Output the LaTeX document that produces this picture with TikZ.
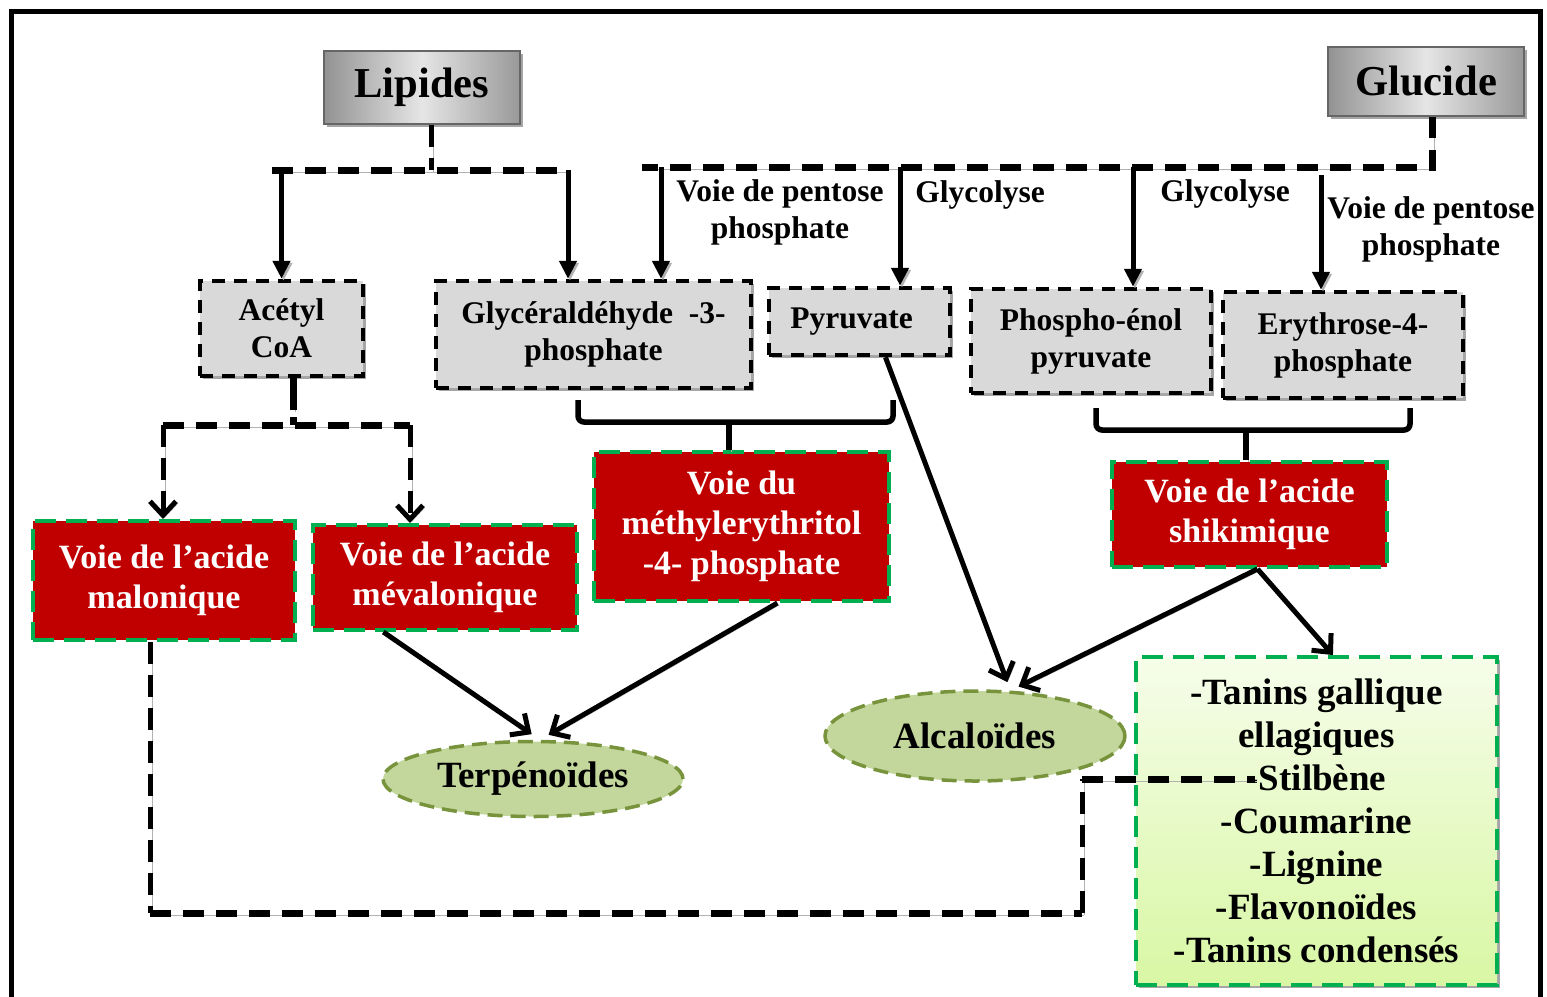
\documentclass[tikz,border=0pt]{standalone}
\usepackage{fontspec}
\setmainfont{Liberation Serif}
\usetikzlibrary{arrows.meta,shapes.geometric,shadows,calc}
\definecolor{darkred}{HTML}{C00000}
\definecolor{vgreen}{HTML}{00B050}
\definecolor{olivec}{HTML}{77933C}
\definecolor{ellfill}{HTML}{C3D69B}
\definecolor{boxgray}{HTML}{D9D9D9}
\definecolor{pbtop}{HTML}{F6FDEA}
\definecolor{pbbot}{HTML}{D8F7A4}
\begin{document}
\begin{tikzpicture}[x=1pt,y=-1pt,
  shad/.style={general shadow={fill=black!35, shadow xshift=3pt, shadow yshift=-3pt}},
  lshad/.style={preaction={draw=black!30, transform canvas={shift={(2pt,-2pt)}}}},
  srcbox/.style={draw=gray!80!black, line width=2pt, left color=gray!85, right color=gray!80, middle color=gray!20, shad, inner sep=0pt, font=\bfseries\fontsize{42.6}{48}\selectfont},
  graybox/.style={draw=black, fill=boxgray, line width=4.5pt, dash pattern=on 13pt off 9pt, shad, align=center, inner sep=0pt, font=\bfseries\fontsize{31.5}{37}\selectfont},
  redbox/.style={draw=vgreen, fill=darkred, text=white, line width=4pt, dash pattern=on 21pt off 10pt, align=center, inner sep=0pt, font=\bfseries\fontsize{34}{40}\selectfont},
  ell/.style={ellipse, draw=olivec, fill=ellfill, line width=3.5pt, dash pattern=on 15pt off 8pt, inner sep=0pt, font=\bfseries\fontsize{37}{43}\selectfont},
  lbl/.style={align=center, font=\bfseries\fontsize{31.5}{37}\selectfont, inner sep=0pt},
  dline/.style={line width=7pt, dash pattern=on 21pt off 12pt, lshad},
  dvert/.style={line width=5pt, dash pattern=on 22pt off 11pt, lshad},
  arr/.style={line width=5pt, -{Triangle[length=18pt,width=17pt]}, lshad},
  barbtip/.style={-{Straight Barb[length=14pt,width=26pt,line width=5pt]}},
  barb/.style={line width=5pt, barbtip, lshad},
  bracel/.style={line width=5.5pt, rounded corners=6pt, lshad},
]
\useasboundingbox (0,0) rectangle (1547,996);
% outer frame
\draw[line width=5pt] (11,1010) -- (11,11) -- (1540,11) -- (1540,1010);

% sources
\node[srcbox, minimum width=196, minimum height=73] (lip) at (422,87) {Lipides};
\node[srcbox, minimum width=196, minimum height=69] (glu) at (1426,81) {Glucide};

% intermediate gray boxes
\node[graybox, minimum width=163, minimum height=95] (acetyl) at (281.5,328.5) {Acétyl\\CoA};
\node[graybox, minimum width=315, minimum height=107] (gly) at (593.5,334.5) {Glycéraldéhyde\ \ -3-\\phosphate};
\node[graybox, minimum width=181, minimum height=67] (pyr) at (859.5,321.5) {Pyruvate\hspace*{16pt}};
\node[graybox, minimum width=240, minimum height=104] (pep) at (1091,341) {Phospho-énol\\pyruvate};
\node[graybox, minimum width=240, minimum height=106] (ery) at (1343,345) {Erythrose-4-\\phosphate};

% pathway labels
\node[lbl] (l1) at (780,212) {Voie de pentose\\phosphate};
\node[lbl] (l2) at (980,195) {Glycolyse};
\node[lbl] (l3) at (1225,194) {Glycolyse};
\node[lbl] (l4) at (1431,229) {Voie de pentose\\phosphate};

% red pathway boxes
\node[redbox, minimum width=262, minimum height=119] (mal) at (164,580.5) {Voie de l’acide\\malonique};
\node[redbox, minimum width=264, minimum height=105] (mev) at (445,577.5) {Voie de l’acide\\mévalonique};
\node[redbox, minimum width=295, minimum height=149] (mep) at (741.5,526.5) {Voie du\\méthylerythritol\\-4- phosphate};
\node[redbox, minimum width=275, minimum height=105] (shi) at (1249.5,514.5) {Voie de l’acide\\shikimique};

% products
\node[ell, minimum width=300, minimum height=75] (terp) at (533,779) {Terpénoïdes};
\node[ell, minimum width=300, minimum height=90] (alc) at (975,736) {Alcaloïdes};
\node[draw=vgreen, top color=pbtop, bottom color=pbbot, line width=4pt, dash pattern=on 21pt off 10pt, shad,
      minimum width=361, minimum height=328, align=center, inner sep=0pt,
      font=\bfseries\fontsize{37}{43}\selectfont] (pb) at (1316.5,821)
  {-Tanins gallique\\ellagiques\\-Stilbène\\-Coumarine\\-Lignine\\-Flavonoïdes\\-Tanins condensés};

% Lipides distribution
\coordinate (lipj) at (431,170);
\coordinate (lipL) at (272,170);
\coordinate (lipR) at (568,170);
\coordinate (lipA) at (281.5,170);
\draw[dvert] (lip.south -| lipj) -- (lipj);
\draw[dline] (lipL) -- (lipR);
\draw[arr] (lipA) -- (acetyl.north);
\draw[arr] (lipR) -- (lipR |- gly.north);

% Glucide distribution
\coordinate (gluj) at (1432,167);
\coordinate (gluL) at (642,167);
\coordinate (g1) at (661,167);
\coordinate (g2) at (900,167);
\coordinate (g3) at (1133,167);
\coordinate (g4) at (1321,175);
\draw[dline] (glu.south -| gluj) -- (gluj) -- (gluL);
\draw[arr] (g1) -- (g1 |- gly.north);
\draw[arr] (g2) -- (g2 |- pyr.north);
\draw[arr] (g3) -- (g3 |- pep.north);
\draw[arr] (g4) -- (g4 |- ery.north);

% braces
\coordinate (b1) at (729,422);
\draw[bracel] (578,400) -- (578,422) -- (893,422) -- (893,400);
\draw[line width=5.5pt, lshad] (b1) -- (b1 |- mep.north);
\coordinate (b2) at (1246,430);
\draw[bracel] (1096,408) -- (1096,430) -- (1410,430) -- (1410,408);
\draw[line width=5.5pt, lshad] (b2) -- (b2 |- shi.north);

% Acetyl CoA branching
\coordinate (aj) at (293,425);
\coordinate (ajL) at (163,425);
\coordinate (ajR) at (410,425);
\draw[line width=7pt, lshad] (acetyl.south -| aj) -- ($(aj)+(0,-15)$);
\draw[line width=7pt, lshad] ($(aj)+(0,-8)$) -- (aj);
\draw[dline] (ajL) -- (ajR);
\draw[dvert, barbtip] (ajL) -- (ajL |- mal.north);
\draw[dvert, barbtip] (ajR) -- (ajR |- mev.north);

% to terpenoids
\draw[barb, shorten >=10pt] ($(mev.south west)!0.27!(mev.south east)$) -- (terp.80);
\draw[barb, shorten >=10pt] ($(mep.south west)!0.62!(mep.south east)$) -- (terp.80);

% to alkaloids
\draw[barb, shorten >=9pt] ($(pyr.south west)!0.64!(pyr.south east)$) -- (alc.52);
\draw[barb, shorten >=9pt] ($(shi.south)+(8,0)$) -- (alc.52);
\draw[barb] ($(shi.south)+(8,0)$) -- ($(pb.north west)!0.545!(pb.north east)$);

% malonique dashed link
\coordinate (m1) at (150,913);
\coordinate (m2) at (1082,913);
\coordinate (m3) at (1082,779);
\coordinate (m4) at (1255,779);
\draw[dvert] (mal.south -| m1) -- (m1);
\draw[dline] (m1) -- (m2);
\draw[dvert] (m2) -- (m3);
\draw[dline] (m3) -- (m4);
\end{tikzpicture}
\end{document}
